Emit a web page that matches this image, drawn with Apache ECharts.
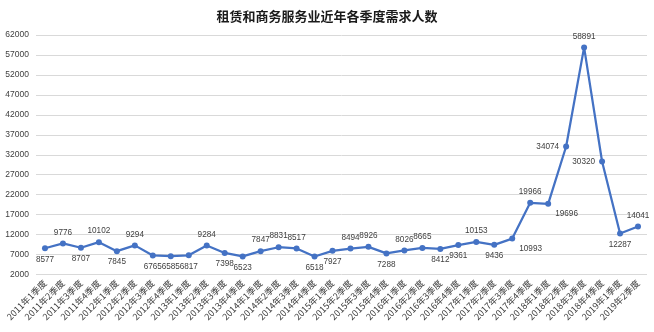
<!DOCTYPE html>
<html>
<head>
<meta charset="utf-8">
<script src="https://cdn.jsdelivr.net/npm/echarts@6/dist/echarts.min.js"></script>
<style>
  html, body { margin: 0; padding: 0; background: #fff; }
  #chart { width: 654px; height: 332px; }
</style>
</head>
<body>
<div id="chart"></div>
<script>
// Quarterly demand headcount, leasing & business services
const categories = [
  '2011年1季度','2011年2季度','2011年3季度','2011年4季度',
  '2012年1季度','2012年2季度','2012年3季度','2012年4季度',
  '2013年1季度','2013年2季度','2013年3季度','2013年4季度',
  '2014年1季度','2014年2季度','2014年3季度','2014年4季度',
  '2015年1季度','2015年2季度','2015年3季度','2015年4季度',
  '2016年1季度','2016年2季度','2016年3季度','2016年4季度',
  '2017年1季度','2017年2季度','2017年3季度','2017年4季度',
  '2018年1季度','2018年2季度','2018年3季度','2018年4季度',
  '2019年1季度','2019年2季度'
];
const demand = [
  8577, 9776, 8707, 10102,
  7845, 9294, 6765, 6585,
  6817, 9284, 7398, 6523,
  7847, 8831, 8517, 6518,
  7927, 8494, 8926, 7288,
  8026, 8665, 8412, 9361,
  10153, 9436, 10993, 19966,
  19696, 34074, 58891, 30320,
  12287, 14041
];

// where each value label sits relative to its point
const labelSide = [
  'bottom','top','bottom','top',
  'bottom','top','bottom','bottom',
  'bottom','top','bottom','bottom',
  'top','top','top','bottom',
  'bottom','top','top','bottom',
  'top','top','bottom','bottom',
  'top','bottom','right','top',
  'right','left','top','left',
  'bottom','top'
];

const numFont = '"Liberation Sans", Arial, sans-serif';
const cjkFont = '"Noto Sans CJK SC", sans-serif';

const seriesData = demand.map((v, i) => {
  const side = labelSide[i];
  const label = { position: side };
  if (side === 'right') { label.offset = [0, 10]; }
  return { value: v, label };
});

const chart = echarts.init(document.getElementById('chart'));
chart.setOption({
  animation: false,
  title: {
    text: '租赁和商务服务业近年各季度需求人数',
    left: 'center',
    top: 5,
    textStyle: { fontFamily: cjkFont, fontSize: 13, fontWeight: 'bold', color: '#1a1a1a' }
  },
  grid: { left: 36, right: 7, top: 35, bottom: 57.5 },
  xAxis: {
    type: 'category',
    data: categories,
    boundaryGap: true,
    axisLine: { show: false },
    axisTick: { show: false },
    axisLabel: {
      rotate: 45,
      interval: 0,
      margin: 7,
      fontFamily: cjkFont,
      fontSize: 9,
      color: '#404040'
    }
  },
  yAxis: {
    type: 'value',
    min: 2000,
    max: 62000,
    interval: 5000,
    axisLine: { show: false },
    axisTick: { show: false },
    axisLabel: {
      fontFamily: numFont,
      fontSize: 8.5,
      color: '#404040',
      margin: 7,
      formatter: (v) => String(v)
    },
    splitLine: { lineStyle: { color: '#d9d9d9', width: 1 } }
  },
  series: [{
    type: 'line',
    data: seriesData,
    symbol: 'circle',
    symbolSize: 6,
    lineStyle: { color: '#4472c4', width: 2.25 },
    itemStyle: { color: '#4472c4' },
    label: {
      show: true,
      distance: 4,
      fontFamily: numFont,
      fontSize: 8.2,
      color: '#404040'
    }
  }]
});
</script>
</body>
</html>
